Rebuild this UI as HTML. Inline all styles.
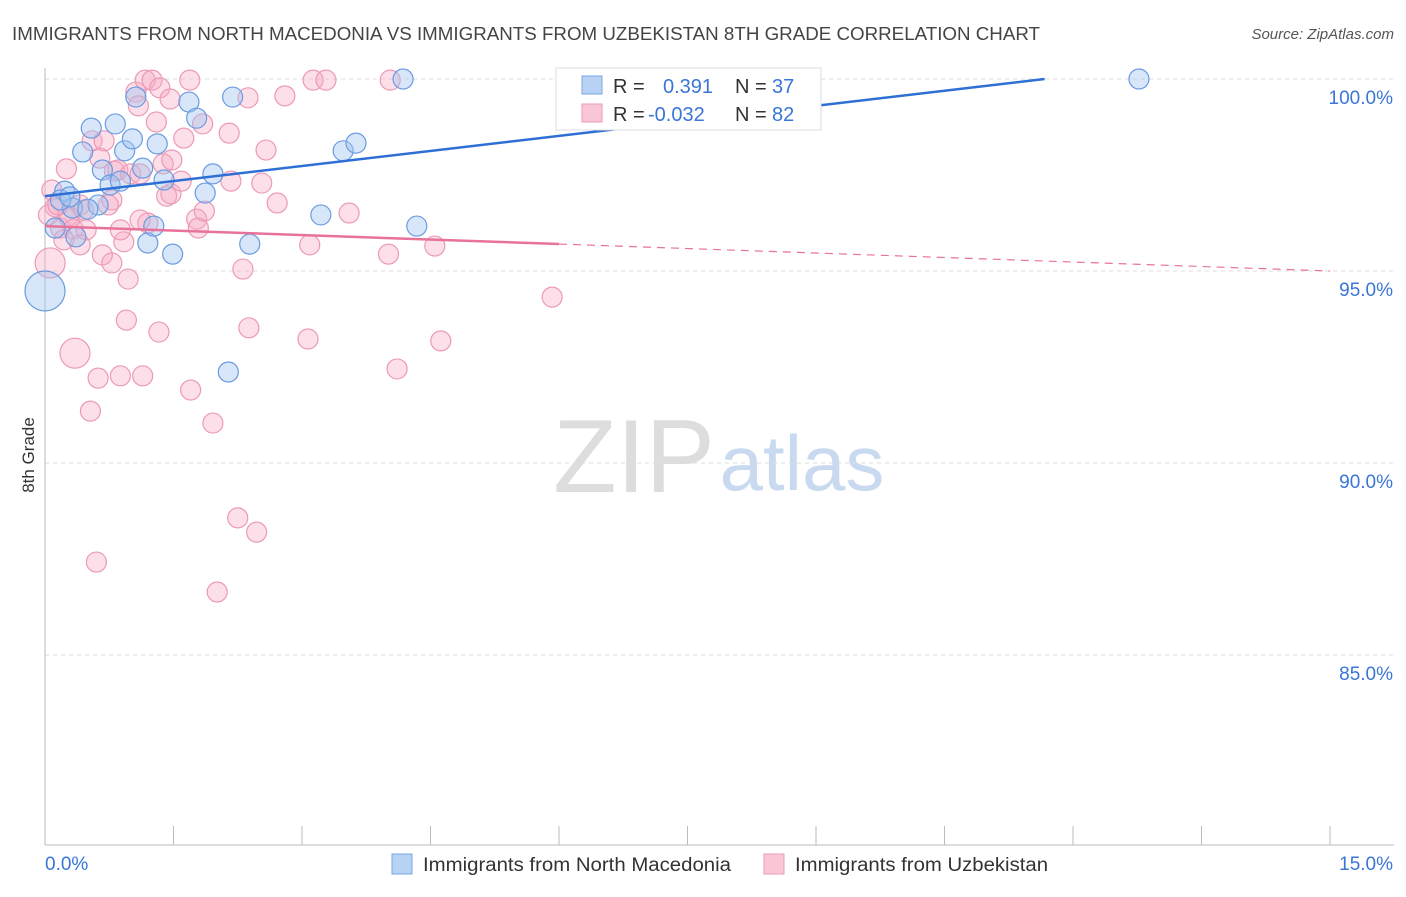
<!DOCTYPE html>
<html><head><meta charset="utf-8"><style>
body{margin:0;background:#fff;font-family:"Liberation Sans",sans-serif;}
svg text{font-family:"Liberation Sans",sans-serif;}
</style></head><body>
<svg id="chart" width="1406" height="892" viewBox="0 0 1406 892" xmlns="http://www.w3.org/2000/svg">
<text x="12" y="40" font-size="18" fill="#444" textLength="1028" lengthAdjust="spacingAndGlyphs">IMMIGRANTS FROM NORTH MACEDONIA VS IMMIGRANTS FROM UZBEKISTAN 8TH GRADE CORRELATION CHART</text>
<text x="1394" y="39" font-size="15" fill="#555" text-anchor="end" font-style="italic">Source: ZipAtlas.com</text>
<g>
<text x="634" y="492" font-size="104" fill="#ddd" text-anchor="middle" font-family="Liberation Serif">ZIP</text>
<text x="802" y="490" font-size="78" fill="#c9daf0" text-anchor="middle">atlas</text>
</g>
<g id="grid"></g>
<g id="axes"></g>
<text transform="translate(34,455) rotate(-90)" font-size="17" fill="#333" text-anchor="middle">8th Grade</text>
<g id="pts"></g>
<g id="lines"></g>
<g>
<rect x="556" y="68" width="265" height="62" fill="#fff" stroke="#ddd"/>
<rect x="582" y="76" width="20" height="18" fill="#b8d2f4" stroke="#7aa6e6"/>
<rect x="582" y="104" width="20" height="18" fill="#f9c6d6" stroke="#ec9ab4"/>
<text x="613" y="93" font-size="20" fill="#333">R = </text>
<text x="663" y="93" font-size="20" fill="#3a75d8">0.391</text>
<text x="735" y="93" font-size="20" fill="#333">N = </text>
<text x="772" y="93" font-size="20" fill="#3a75d8">37</text>
<text x="613" y="121" font-size="20" fill="#333">R = </text>
<text x="648" y="121" font-size="20" fill="#3a75d8">-0.032</text>
<text x="735" y="121" font-size="20" fill="#333">N = </text>
<text x="772" y="121" font-size="20" fill="#3a75d8">82</text>
</g>
<g>
<rect x="392" y="854" width="20" height="20" fill="#b8d2f4" stroke="#7aa6e6"/>
<text x="423" y="871" font-size="19" fill="#333" textLength="308" lengthAdjust="spacingAndGlyphs">Immigrants from North Macedonia</text>
<rect x="764" y="854" width="20" height="20" fill="#f9c6d6" stroke="#ec9ab4"/>
<text x="795" y="871" font-size="19" fill="#333" textLength="253" lengthAdjust="spacingAndGlyphs">Immigrants from Uzbekistan</text>
</g>
</svg>
<script>
const xTicks=[0,1.5,3,4.5,6,7.5,9,10.5,12,13.5,15];
const yTicks=[100,95,90,85];
const yTickLabels=["100.0%","95.0%","90.0%","85.0%"];
const blueX=[0.23,0.12,0.32,0.36,0.44,0.54,0.62,0.67,0.76,0.82,0.88,0.93,1.02,1.14,1.06,1.20,1.27,1.31,1.39,1.49,1.68,1.77,1.87,1.96,2.19,2.14,2.39,3.22,3.48,3.63,4.18,4.34,12.77,0,0.50,0.18,0.29];
const blueY=[97.08,96.12,96.64,95.89,98.10,98.72,96.72,97.63,97.24,98.83,97.34,98.13,98.44,97.68,99.53,95.73,96.17,98.31,97.37,95.44,99.40,98.98,97.03,97.53,99.53,92.37,95.70,96.46,98.13,98.33,100,96.17,100,94.48,96.61,96.85,96.93];
const blueSize=[1,1,1,1,1,1,1,1,1,1,1,1,1,1,1,1,1,1,1,1,1,1,1,1,1,1,1,1,1,1,1,1,1,2,1,1,1];
const pinkX=[.08,.12,.06,.18,.25,.27,.33,.35,.41,.45,.48,.53,.55,.60,.62,.64,.69,.67,.78,.78,.81,.85,.88,.92,.95,.97,1.00,1.06,1.09,1.14,1.17,1.25,1.11,1.20,1.30,1.34,1.33,1.38,1.42,1.46,1.47,1.48,1.59,1.62,1.69,1.70,1.77,1.79,1.84,1.86,1.96,2.01,2.15,2.17,2.25,2.31,2.37,2.38,2.47,2.53,2.58,2.71,2.80,3.07,3.09,3.13,3.28,3.55,4.01,4.03,4.11,4.55,4.62,5.92,.29,.04,.15,.74,.22,.41,1.11,.88];
const pinkY=[97.11,96.67,95.21,96.12,97.66,96.43,96.09,92.86,96.72,96.59,96.07,91.35,98.39,87.42,92.21,97.94,98.39,95.42,95.21,96.85,97.60,97.63,92.27,95.76,93.72,94.79,97.53,99.66,99.30,92.27,99.97,99.97,97.53,96.25,98.88,99.77,93.41,97.79,96.95,99.48,97.01,97.89,97.34,98.46,99.97,91.90,96.35,96.12,98.83,96.56,91.04,86.64,98.59,97.34,88.57,95.05,99.51,93.52,88.20,97.29,98.15,96.77,99.56,93.23,95.68,99.97,99.97,96.51,95.44,99.97,92.45,95.65,93.18,94.32,96.38,96.46,96.72,96.72,95.81,95.68,96.33,96.07];
const blueLine=[96.95,0.2614];
const pinkLine=[96.17,-0.078];
const pinkSolidEnd=6.0;

const NS="http://www.w3.org/2000/svg";
const X0=45,X1=1330,Y0=79;
function sx(v){return X0+(X1-X0)*v/15;}
function sy(v){return Y0+(100-v)*38.4;}
function mk(tag,attrs,parent){const e=document.createElementNS(NS,tag);for(const k in attrs)e.setAttribute(k,attrs[k]);parent.appendChild(e);return e;}
const grid=document.getElementById('grid'),axes=document.getElementById('axes'),pts=document.getElementById('pts'),lines=document.getElementById('lines');
yTicks.forEach((t,i)=>{
 const l=mk('line',{x1:X0,x2:1394,y1:sy(t),y2:sy(t),stroke:'#ddd','stroke-dasharray':'4,4'},grid);
 
 
 const tx=mk('text',{x:1393,y:sy(t)+25,'font-size':19,fill:'#3a75d8','text-anchor':'end'},axes);
 tx.textContent=yTickLabels[i];
 
 
});
const ax=mk('line',{x1:X0,x2:X0,y1:68,y2:845,stroke:'#bbb'},axes);


const bx=mk('line',{x1:X0,x2:1394,y1:845,y2:845,stroke:'#bbb'},axes);


xTicks.forEach(t=>{
 const l=mk('line',{x1:sx(t),x2:sx(t),y1:826,y2:845,stroke:'#bbb'},axes);
 
 
});
const xl=mk('text',{x:45,y:870,'font-size':19,fill:'#3a75d8'},axes);xl.textContent='0.0%';


const xr=mk('text',{x:1393,y:870,'font-size':19,fill:'#3a75d8','text-anchor':'end'},axes);xr.textContent='15.0%';


pinkX.forEach((x,i)=>{
 const r=(i===2||i===7)?15:10;
 const c=mk('circle',{cx:sx(x),cy:sy(pinkY[i]),r:r,fill:'rgba(246,172,196,0.38)',stroke:'#ec9ab4','stroke-width':1.2},pts);
 
 
});
blueX.forEach((x,i)=>{
 const c=mk('circle',{cx:sx(x),cy:sy(blueY[i]),r:blueSize[i]===2?20:10,fill:'rgba(160,196,240,0.42)',stroke:'#6a9be0','stroke-width':1.2},pts);
 
 
});
const bEnd=(100-blueLine[0])/blueLine[1];
const bl=mk('line',{x1:sx(0),y1:sy(blueLine[0]),x2:sx(bEnd),y2:sy(100),stroke:'#2e6fd6','stroke-width':2.5},lines);


const pl=mk('line',{x1:sx(0),y1:sy(pinkLine[0]),x2:sx(pinkSolidEnd),y2:sy(pinkLine[0]+pinkLine[1]*pinkSolidEnd),stroke:'#e8739a','stroke-width':2.5},lines);


const pd=mk('line',{x1:sx(pinkSolidEnd),y1:sy(pinkLine[0]+pinkLine[1]*pinkSolidEnd),x2:sx(15),y2:sy(pinkLine[0]+pinkLine[1]*15),stroke:'#e8739a','stroke-width':1.2,'stroke-dasharray':'8,6'},lines);


</script>
</body></html>
